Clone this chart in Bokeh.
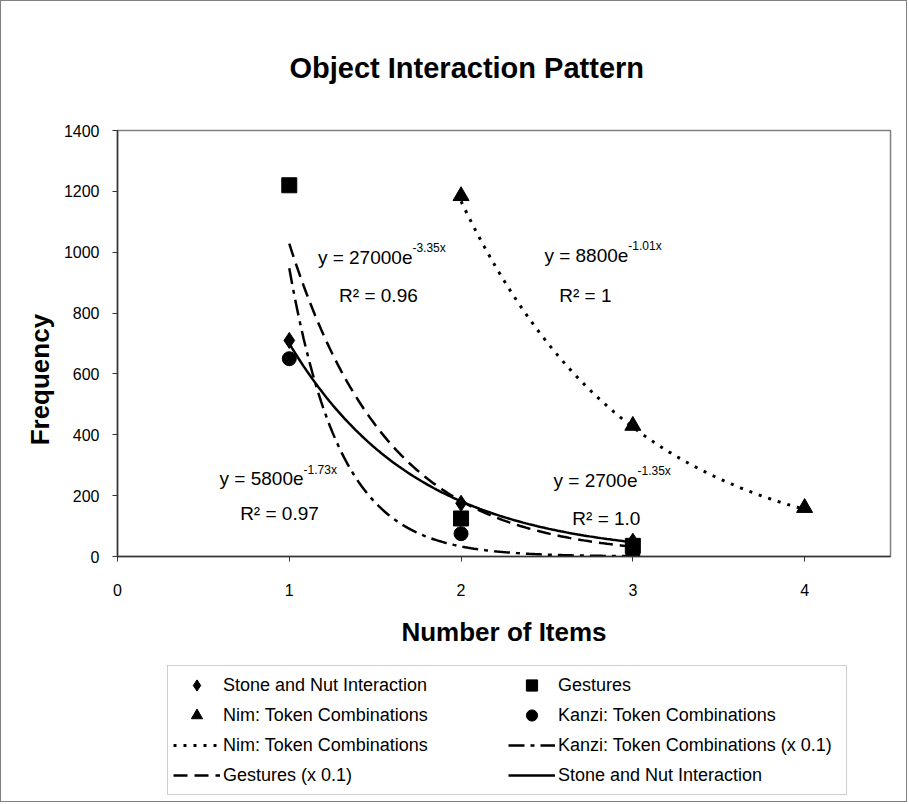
import numpy as np
from bokeh.plotting import figure
from bokeh.layouts import column
from bokeh.models import Legend, LegendItem, Range1d, FixedTicker, ColumnDataSource
from bokeh.core.properties import value
from bokeh.embed import file_html
from bokeh.resources import INLINE

FONT = "Liberation Sans"

# ---- data ----
items_x = [1, 2, 3]
stone_nut = [710, 175, 50]
gestures = [1220, 125, 35]
kanzi = [650, 75, 5]
nim_x = [2, 3, 4]
nim = [1185, 430, 160]

# trend lines as printed on the chart: y = a * exp(b * x)
nim_fit = (8800, -1.01)
stone_fit = (2700, -1.35)
gestures_fit = (5800, -1.73)
kanzi_fit = (27000, -3.35)
nim_span = (2, 4)
fit_span = (1, 3)

eq_main = ["y = 27000e", "y = 8800e", "y = 5800e", "y = 2700e"]
eq_exp = ["-3.35x", "-1.01x", "-1.73x", "-1.35x"]
r2_text = ["R\u00b2 = 0.96", "R\u00b2 = 1", "R\u00b2 = 0.97", "R\u00b2 = 1.0"]

x_ticks = [0, 1, 2, 3, 4]
y_ticks = [0, 200, 400, 600, 800, 1000, 1200, 1400]

# annotation anchor positions (data units)
eq_x = [1.717, 2.974, 1.083, 3.027]
eq_y = [983, 990, 256, 250]
r2_x = [1.519, 2.724, 0.943, 2.846]
r2_y = [858, 858, 141, 125]

# line styles
NIM_LINE = dict(line_color="black", line_width=3, line_dash="3 7")
KANZI_LINE = dict(line_color="black", line_width=2.5, line_dash="16 6 4 6")
GEST_LINE = dict(line_color="black", line_width=2.5, line_dash="14 7")
STONE_LINE = dict(line_color="black", line_width=2.5)


def curve(fit, span):
    xs = np.linspace(span[0], span[1], 120)
    return xs, fit[0] * np.exp(fit[1] * xs)


p = figure(width=905, height=660, x_range=Range1d(0, 4.5), y_range=Range1d(0, 1400),
           output_backend="svg", toolbar_location=None,
           min_border_left=116, min_border_right=16, min_border_top=129, min_border_bottom=105)
p.background_fill_color = "white"
p.border_fill_color = "white"
p.grid.visible = False
p.outline_line_color = "#808080"
p.outline_line_width = 1.5

p.title.text = "Object Interaction Pattern"
p.title.align = "left"
p.title.offset = 172
p.title.text_font = FONT
p.title.text_font_style = "bold"
p.title.text_font_size = "29px"
p.title.text_color = "black"
p.title.standoff = 94

for ax in (p.xaxis[0], p.yaxis[0]):
    ax.axis_line_color = "#333333"
    ax.axis_line_width = 1.5
    ax.major_tick_line_color = "#333333"
    ax.major_tick_in = 0
    ax.major_tick_out = 5
    ax.minor_tick_line_color = None
    ax.major_label_text_font = FONT
    ax.major_label_text_font_size = "16px"
    ax.major_label_text_color = "black"
    ax.axis_label_text_font = FONT
    ax.axis_label_text_font_style = "bold"
    ax.axis_label_text_font_size = "26px"
    ax.axis_label_text_color = "black"

p.xaxis.ticker = FixedTicker(ticks=x_ticks)
p.yaxis.ticker = FixedTicker(ticks=y_ticks)
p.xaxis.axis_label = "Number of Items"
# trailing no-break spaces nudge the rotated label downward, as in the original
p.yaxis.axis_label = "Frequency" + "\u00a0" * 10
p.xaxis.major_label_standoff = 22
p.yaxis.major_label_standoff = 13
p.xaxis.axis_label_standoff = 18
p.yaxis.axis_label_standoff = 6

# trend lines
xs, ys = curve(nim_fit, nim_span)
p.line(xs, ys, **NIM_LINE)
xs, ys = curve(kanzi_fit, fit_span)
p.line(xs, ys, **KANZI_LINE)
xs, ys = curve(gestures_fit, fit_span)
p.line(xs, ys, **GEST_LINE)
xs, ys = curve(stone_fit, fit_span)
p.line(xs, ys, **STONE_LINE)

# markers
p.scatter(items_x, stone_nut, marker="diamond", size=16, color="black")
p.scatter(items_x, gestures, marker="square", size=15, color="black")
p.scatter(nim_x, nim, marker="triangle", size=16, color="black")
p.scatter(items_x, kanzi, marker="circle", size=14, color="black")

# equations
src_eq = ColumnDataSource(dict(x=eq_x, y=eq_y, t=eq_main, e=eq_exp))
p.text(x="x", y="y", text="t", source=src_eq, text_align="right", text_baseline="middle",
       text_font=value(FONT), text_font_size="19px", text_color="black")
p.text(x="x", y="y", text="e", source=src_eq, text_align="left", text_baseline="middle",
       y_offset=-9, text_font=value(FONT), text_font_size="12px", text_color="black")
src_r2 = ColumnDataSource(dict(x=r2_x, y=r2_y, t=r2_text))
p.text(x="x", y="y", text="t", source=src_r2, text_align="center", text_baseline="middle",
       text_font=value(FONT), text_font_size="19px", text_color="black")

# ---- legend strip below the plot ----
lg = figure(width=905, height=140, x_range=Range1d(0, 1), y_range=Range1d(0, 1),
            output_backend="svg", toolbar_location=None, x_axis_type=None, y_axis_type=None,
            min_border=0)
lg.grid.visible = False
lg.outline_line_color = None
lg.background_fill_color = "white"
lg.border_fill_color = "white"

# off-screen proxies, only used to draw the legend swatches
OFF = [-10]
e_stone = lg.scatter(OFF, OFF, marker="diamond", size=16, color="black")
e_gest = lg.scatter(OFF, OFF, marker="square", size=15, color="black")
e_nim = lg.scatter(OFF, OFF, marker="triangle", size=16, color="black")
e_kanzi = lg.scatter(OFF, OFF, marker="circle", size=14, color="black")
el_nim = lg.line(OFF * 2, OFF * 2, **NIM_LINE)
el_kanzi = lg.line(OFF * 2, OFF * 2, **KANZI_LINE)
el_gest = lg.line(OFF * 2, OFF * 2, **GEST_LINE)
el_stone = lg.line(OFF * 2, OFF * 2, **STONE_LINE)

legend = Legend(items=[
    LegendItem(label="Stone and Nut Interaction", renderers=[e_stone]),
    LegendItem(label="Nim: Token Combinations", renderers=[e_nim]),
    LegendItem(label="Nim: Token Combinations", renderers=[el_nim]),
    LegendItem(label="Gestures (x 0.1)", renderers=[el_gest]),
    LegendItem(label="Gestures", renderers=[e_gest]),
    LegendItem(label="Kanzi: Token Combinations", renderers=[e_kanzi]),
    LegendItem(label="Kanzi: Token Combinations (x 0.1)", renderers=[el_kanzi]),
    LegendItem(label="Stone and Nut Interaction", renderers=[el_stone]),
], location=(50, 6), orientation="vertical", nrows=4,
    glyph_width=47, glyph_height=28, label_height=28, label_width=283,
    spacing=2, padding=5, margin=0, label_standoff=3,
    border_line_color="#a0a0a0", border_line_width=1,
    label_text_font=FONT, label_text_font_size="18px", label_text_color="black",
    background_fill_color="white", background_fill_alpha=1.0)
lg.add_layout(legend)

page = column(p, lg, spacing=0, styles={"border": "1px solid #808080"})

open("out.html", "w").write(file_html(page, INLINE))
